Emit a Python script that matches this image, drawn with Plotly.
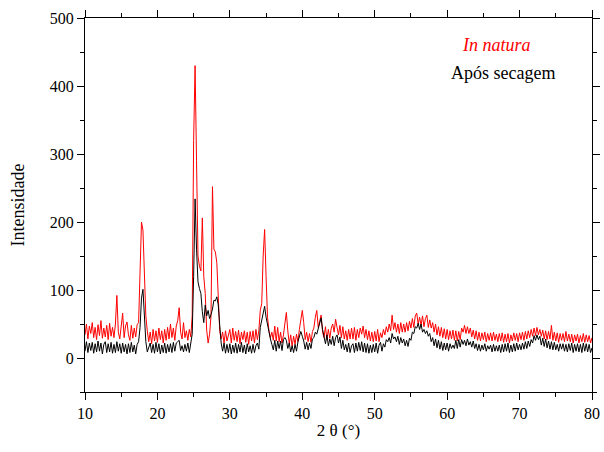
import numpy as np
import plotly.graph_objects as go

# 2θ scan grid (degrees), 0.2° step
two_theta = np.round(np.arange(10.0, 80.0001, 0.2), 1)

# Intensities, one row per degree (x.0, x.2, x.4, x.6, x.8)
in_natura = [
    34, 50, 28, 47, 36,     # 10
    52, 30, 45, 27, 49,     # 11
    33, 55, 29, 44, 31,     # 12
    48, 27, 51, 32, 45,     # 13
    30, 50, 92, 38, 28,     # 14
    44, 66, 30, 47, 53,     # 15
    34, 26, 48, 29, 44,     # 16
    31, 49, 52, 130, 200,   # 17
    188, 120, 62, 40, 24,   # 18
    38, 21, 42, 25, 40,     # 19
    23, 44, 27, 40, 22,     # 20
    42, 26, 45, 28, 50,     # 21
    30, 44, 26, 47, 55,     # 22
    74, 38, 28, 52, 30,     # 23
    40, 26, 42, 31, 62,     # 24
    320, 430, 290, 150, 135,  # 25
    128, 206, 120, 95, 41,  # 26
    22, 35, 62, 252, 160,   # 27
    156, 140, 85, 40, 28,   # 28
    38, 22, 40, 25, 36,     # 29
    42, 22, 44, 26, 39,     # 30
    24, 41, 21, 38, 27,     # 31
    40, 23, 38, 20, 39,     # 32
    25, 40, 22, 42, 27,     # 33
    40, 70, 80, 150, 189,   # 34
    120, 60, 40, 30, 38,    # 35
    26, 47, 25, 45, 24,     # 36
    38, 22, 34, 50, 67,     # 37
    40, 21, 34, 17, 32,     # 38
    20, 35, 24, 42, 55,     # 39
    70, 52, 27, 38, 24,     # 40
    36, 23, 39, 44, 60,     # 41
    70, 45, 55, 63, 38,     # 42
    30, 46, 27, 42, 29,     # 43
    44, 50, 38, 57, 45,     # 44
    34, 48, 30, 46, 28,     # 45
    40, 26, 42, 28, 44,     # 46
    28, 45, 26, 42, 30,     # 47
    44, 35, 47, 30, 42,     # 48
    27, 40, 25, 38, 24,     # 49
    39, 25, 42, 24, 37,     # 50
    30, 42, 34, 46, 38,     # 51
    50, 40, 63, 42, 52,     # 52
    38, 50, 36, 52, 38,     # 53
    50, 38, 52, 40, 54,     # 54
    44, 58, 45, 62, 66,     # 55
    50, 60, 48, 62, 46,     # 56
    58, 63, 45, 56, 44,     # 57
    52, 38, 50, 34, 46,     # 58
    32, 45, 30, 43, 28,     # 59
    42, 27, 40, 28, 41,     # 60
    26, 40, 25, 39, 27,     # 61
    44, 38, 48, 36, 46,     # 62
    36, 44, 31, 41, 28,     # 63
    40, 26, 38, 25, 37,     # 64
    27, 38, 24, 36, 26,     # 65
    37, 25, 38, 26, 35,     # 66
    24, 36, 25, 37, 23,     # 67
    35, 24, 36, 22, 34,     # 68
    25, 37, 26, 36, 24,     # 69
    37, 27, 38, 26, 39,     # 70
    28, 40, 30, 42, 32,     # 71
    44, 33, 45, 34, 42,     # 72
    32, 41, 28, 40, 27,     # 73
    39, 28, 48, 26, 38,     # 74
    25, 37, 23, 36, 26,     # 75
    36, 24, 39, 25, 35,     # 76
    24, 35, 22, 34, 25,     # 77
    35, 22, 33, 24, 36,     # 78
    23, 34, 24, 33, 22,     # 79
    30,                     # 80
]

apos_secagem = [
    10, 24, 8, 22, 11,      # 10
    23, 7, 21, 9, 25,       # 11
    10, 22, 6, 20, 24,      # 12
    8, 21, 9, 23, 7,        # 13
    20, 8, 24, 10, 21,      # 14
    7, 22, 9, 20, 6,        # 15
    21, 8, 23, 9, 19,       # 16
    6, 20, 24, 45, 88,      # 17
    101, 60, 24, 9, 16,     # 18
    22, 8, 20, 7, 23,       # 19
    9, 21, 6, 19, 8,        # 20
    22, 7, 20, 9, 21,       # 21
    8, 23, 10, 22, 24,      # 22
    26, 11, 18, 9, 20,      # 23
    10, 22, 8, 19, 35,      # 24
    120, 234, 160, 112, 102,  # 25
    95, 68, 52, 78, 62,     # 26
    70, 58, 64, 72, 85,     # 27
    84, 90, 78, 48, 22,     # 28
    10, 22, 7, 20, 8,       # 29
    21, 6, 19, 8, 22,       # 30
    7, 20, 9, 23, 8,        # 31
    19, 6, 21, 9, 18,       # 32
    7, 20, 8, 18, 22,       # 33
    13, 45, 55, 62, 76,     # 34
    60, 48, 35, 28, 20,     # 35
    12, 26, 10, 25, 14,     # 36
    25, 11, 27, 30, 26,     # 37
    14, 22, 9, 18, 8,       # 38
    20, 10, 24, 30, 39,     # 39
    32, 25, 13, 23, 12,     # 40
    22, 14, 28, 30, 38,     # 41
    35, 44, 50, 59, 42,     # 42
    30, 21, 34, 18, 28,     # 43
    20, 32, 18, 30, 34,     # 44
    22, 31, 14, 26, 12,     # 45
    20, 9, 22, 8, 18,       # 46
    21, 8, 22, 10, 23,      # 47
    11, 24, 9, 22, 8,       # 48
    21, 7, 19, 8, 20,       # 49
    9, 22, 7, 19, 23,       # 50
    10, 21, 16, 27, 24,     # 51
    30, 22, 36, 28, 31,     # 52
    24, 32, 20, 30, 22,     # 53
    28, 18, 26, 17, 29,     # 54
    26, 38, 36, 46, 44,     # 55
    51, 42, 50, 38, 42,     # 56
    36, 40, 32, 36, 24,     # 57
    30, 18, 28, 15, 26,     # 58
    13, 24, 11, 22, 12,     # 59
    22, 10, 21, 14, 19,     # 60
    14, 26, 14, 27, 16,     # 61
    27, 20, 26, 18, 28,     # 62
    19, 24, 16, 25, 14,     # 63
    21, 11, 20, 10, 19,     # 64
    12, 21, 10, 18, 13,     # 65
    19, 9, 20, 10, 18,      # 66
    10, 19, 8, 20, 9,       # 67
    21, 10, 22, 8, 19,      # 68
    9, 21, 10, 22, 12,      # 69
    20, 12, 22, 13, 24,     # 70
    14, 25, 17, 27, 22,     # 71
    33, 26, 34, 27, 32,     # 72
    19, 29, 17, 28, 15,     # 73
    25, 13, 24, 12, 23,     # 74
    12, 20, 10, 21, 13,     # 75
    21, 10, 20, 9, 21,      # 76
    11, 22, 8, 20, 10,      # 77
    21, 9, 20, 8, 22,       # 78
    10, 21, 9, 20, 8,       # 79
    15,                     # 80
]

series_names = ["In natura", "Após secagem"]
series_colors = ["#ff0000", "#000000"]

FONT = "Liberation Serif"

fig = go.Figure()
for name, ys, col in zip(series_names, [in_natura, apos_secagem], series_colors):
    fig.add_trace(go.Scatter(x=two_theta, y=ys, mode="lines", name=name,
                             line=dict(color=col, width=1)))

fig.add_annotation(x=0.812, y=0.928, xref="paper", yref="paper",
                   text="<i>In natura</i>", showarrow=False,
                   font=dict(family=FONT, size=18, color="#ff0000"),
                   xanchor="center", yanchor="middle")
fig.add_annotation(x=0.824, y=0.853, xref="paper", yref="paper",
                   text="Após secagem", showarrow=False,
                   font=dict(family=FONT, size=18, color="#000000"),
                   xanchor="center", yanchor="middle")

axis_common = dict(showline=True, linecolor="black", linewidth=1, mirror="allticks",
                   ticks="outside", ticklen=7, tickwidth=1, tickcolor="black",
                   showgrid=False, zeroline=False, automargin=False,
                   tickfont=dict(family=FONT, size=16, color="black"))

fig.update_xaxes(range=[10, 80], dtick=10, tick0=10,
                 minor=dict(dtick=5, ticks="outside", ticklen=4, tickcolor="black"),
                 title=dict(text="2 θ (°)", font=dict(family=FONT, size=17, color="black"),
                            standoff=2),
                 **axis_common)
fig.update_yaxes(range=[-50, 500], dtick=100, tick0=0,
                 minor=dict(dtick=50, ticks="outside", ticklen=4, tickcolor="black"),
                 title=dict(text="Intensidade", font=dict(family=FONT, size=18, color="black"),
                            standoff=20),
                 **axis_common)

fig.update_layout(width=604, height=452, showlegend=False,
                  margin=dict(l=85, r=12, t=18, b=60),
                  paper_bgcolor="white", plot_bgcolor="white",
                  font=dict(family=FONT))

# remove the page body's default 8 px margin so the figure fills the window exactly
fig.write_html("out.html", config={"displayModeBar": False},
               post_script="document.body.style.margin='0';document.body.style.overflow='hidden';")
